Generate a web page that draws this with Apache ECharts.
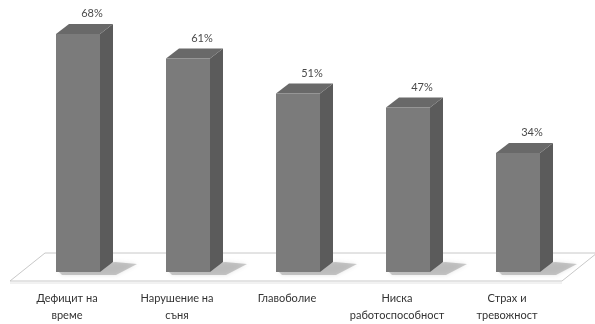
<!DOCTYPE html>
<html><head><meta charset="utf-8">
<script src="https://cdn.jsdelivr.net/npm/echarts@6/dist/echarts.min.js"></script>
<style>html,body{margin:0;padding:0;background:#fff}#c{width:595px;height:324px}</style>
</head><body><div id="c"></div>
<script>
const categories = ['Дефицит на\nвреме', 'Нарушение на\nсъня', 'Главоболие', 'Ниска\nработоспособност', 'Страх и\nтревожност'];
const values = [68, 61, 51, 47, 34];
const valueLabels = ['68%', '61%', '51%', '47%', '34%'];

const DX = 13, DY = -10, BAR_W = 44;
const chart = echarts.init(document.getElementById('c'), null, {renderer: 'canvas'});

function renderBar(params, api) {
  const i = api.value(0), v = api.value(1);
  const top = api.coord([i, v]);
  const base = api.coord([i, 0]);
  const x0 = top[0] - BAR_W / 2, x1 = top[0] + BAR_W / 2;
  const yt = top[1], yb = base[1];
  return {
    type: 'group',
    children: [
      { type: 'polygon', z2: 1, shape: { points: [[x0 + 2, yb - 1], [x1 + DX + 2, yb + DY], [x1 + DX + 24, yb + DY + 2], [x1 + 16, yb + 3], [x0 + 6, yb + 3]] },
        style: { fill: 'rgba(110,110,110,0.35)', shadowBlur: 4, shadowColor: 'rgba(110,110,110,0.5)' } },
      { type: 'polygon', z2: 2, shape: { points: [[x1, yt], [x1 + DX, yt + DY], [x1 + DX, yb + DY], [x1, yb]] },
        style: { fill: '#5b5b5b' } },
      { type: 'polygon', z2: 2, shape: { points: [[x0, yt], [x0 + DX, yt + DY], [x1 + DX, yt + DY], [x1, yt]] },
        style: { fill: '#696969' } },
      { type: 'rect', z2: 3, shape: { x: x0, y: yt, width: BAR_W, height: yb - yt },
        style: { fill: '#7b7b7b' } },
      { type: 'text', z2: 4, style: { text: valueLabels[i], x: top[0] + 14, y: yt + DY - 5, align: 'center', verticalAlign: 'bottom',
        font: '11px Lato, "Open Sans", sans-serif', fill: '#4a4a4a' } }
    ]
  };
}

function renderFloor(params, api) {
  const a = api.coord([0, 0]);
  const b = api.coord([categories.length - 1, 0]);
  const band = api.size([1, 0])[0];
  const fl = a[0] - band / 2 - 13, fr = b[0] + band / 2 - 11;
  const yf = a[1] + 9, yk = a[1] - 19;
  const sx = 35;
  return {
    type: 'group',
    children: [
      { type: 'polygon', shape: { points: [[fl, yf], [fl + sx, yk], [fr + sx, yk], [fr, yf]] },
        style: { fill: '#fff', stroke: '#c8c8c8', lineWidth: 1 } },
      { type: 'line', shape: { x1: fl, y1: yf + 2, x2: fr, y2: yf + 2 }, style: { stroke: '#e4e4e4', lineWidth: 1 } }
    ]
  };
}

chart.setOption({
  animation: false,
  backgroundColor: '#fff',
  grid: { left: 23, right: 22, top: 27, bottom: 50 },
  xAxis: {
    type: 'category', data: categories,
    axisLine: { show: false }, axisTick: { show: false },
    axisLabel: { interval: 0, margin: 18, color: '#333', fontSize: 11, lineHeight: 17,
      fontFamily: 'Lato, "Open Sans", sans-serif', padding: [0, 22, 0, 0] }
  },
  yAxis: { type: 'value', min: 0, max: 70, show: false, splitLine: { show: false } },
  series: [
    { type: 'custom', renderItem: renderFloor, data: [[0, 0]], z: 1, silent: true },
    { type: 'custom', renderItem: renderBar, data: values.map((v, i) => [i, v]), z: 2,
      encode: { x: 0, y: 1 } }
  ]
});
</script></body></html>
